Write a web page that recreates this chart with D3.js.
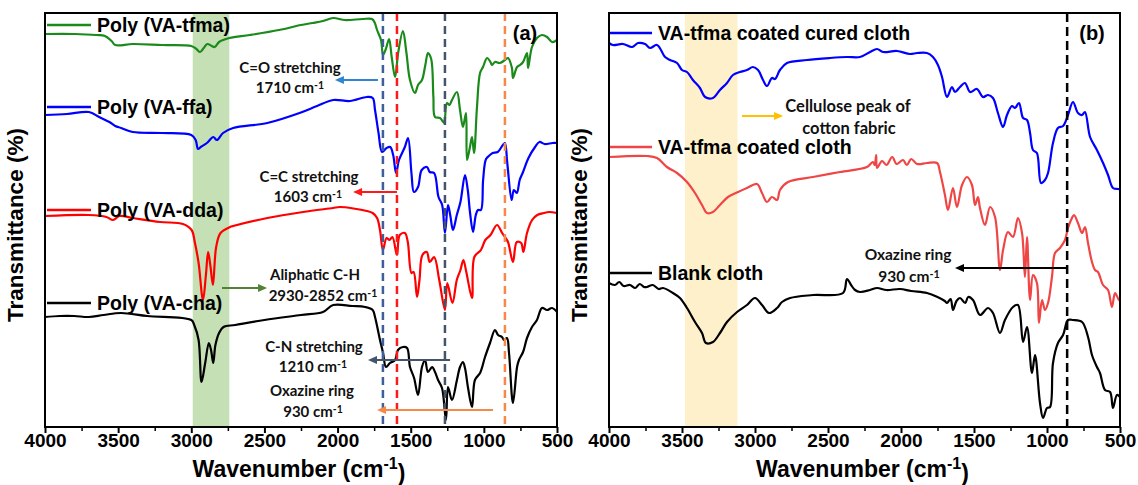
<!DOCTYPE html>
<html><head><meta charset="utf-8">
<script src="https://cdn.jsdelivr.net/npm/d3@7"></script>
<style>body{margin:0;background:#fff}svg{display:block}</style>
</head><body>
<svg id="c" width="1138" height="485"></svg>
<script>
// ---------- DATA (wavenumber cm-1, transmittance a.u.) ----------
const wnTicks = [4000, 3500, 3000, 2500, 2000, 1500, 1000, 500];
const wnMinor = [3750, 3250, 2750, 2250, 1750, 1250, 750];

const polyTfma = [[4000,393],[3800,393],[3650,392],[3590,391],[3545,386],[3520,382],[3400,383],[3200,382],[3000,381],[2965,378],[2940,375],[2915,379],[2890,383],[2860,381],[2840,380],[2810,385],[2740,389],[2600,392],[2400,397],[2250,402],[2170,404],[2100,406],[2030,409],[1950,407],[1830,408],[1765,408],[1745,404],[1730,397],[1703,387],[1689,372],[1670,378],[1648,388],[1630,370],[1607,350],[1585,375],[1553,396],[1530,375],[1505,347],[1471,334],[1450,342],[1423,347],[1400,362],[1382,374],[1360,368],[1345,330],[1334,310],[1300,309],[1270,304],[1266,308],[1252,324],[1235,322],[1218,327],[1184,335],[1163,317],[1143,300],[1122,314],[1115,267],[1095,280],[1081,290],[1067,274],[1047,320],[1026,354],[1006,360],[978,369],[955,365],[944,362],[924,365],[890,364],[856,367],[835,369],[808,359],[801,349],[773,360],[753,362],[732,365],[705,374],[698,359],[671,380],[637,389],[603,392],[568,390],[534,385],[500,387]];

const polyFfa = [[4000,312],[3850,313],[3700,315],[3630,310],[3560,305],[3520,301],[3480,299],[3400,295],[3200,294],[3000,292],[2970,287],[2954,278],[2935,280],[2893,284],[2850,290],[2825,287],[2783,294],[2714,299],[2480,304],[2260,314],[2140,321],[2030,327],[1915,326],[1800,330],[1760,329],[1744,317],[1720,294],[1696,275],[1665,279],[1640,280],[1620,272],[1600,254],[1580,267],[1540,280],[1518,289],[1495,254],[1478,235],[1450,240],[1425,257],[1389,260],[1370,255],[1340,254],[1310,230],[1285,222],[1266,194],[1245,222],[1230,212],[1211,197],[1185,212],[1160,225],[1129,252],[1110,237],[1095,215],[1074,195],[1055,212],[1040,217],[1020,217],[1005,247],[985,268],[958,272],[940,274],[905,275],[870,282],[856,284],[840,264],[810,227],[795,237],[775,234],[755,247],[735,254],[695,269],[650,280],[620,285],[585,283],[530,284],[500,284]];

const polyDda = [[4000,211],[3700,212],[3580,210],[3535,207],[3490,211],[3400,209],[3214,205],[3057,203],[2998,197],[2975,184],[2950,164],[2920,127],[2900,152],[2885,175],[2870,162],[2852,142],[2830,180],[2800,194],[2735,200],[2714,201],[2480,209],[2236,215],[2031,219],[1985,220],[1800,216],[1760,214],[1730,209],[1710,197],[1690,177],[1665,189],[1645,187],[1625,190],[1594,172],[1575,192],[1540,194],[1520,185],[1495,154],[1480,155],[1457,130],[1440,147],[1420,172],[1390,175],[1370,165],[1340,170],[1305,147],[1266,117],[1250,144],[1215,124],[1185,147],[1160,157],[1140,167],[1120,155],[1081,129],[1065,170],[1020,177],[990,187],[955,192],[910,202],[875,194],[856,190],[835,185],[801,165],[775,185],[745,184],[730,175],[705,194],[670,207],[635,212],[590,214],[555,215],[500,214]];

const polyCha = [[4000,110],[3900,111],[3800,111],[3700,110],[3600,112],[3480,114],[3300,111],[3000,107],[2980,102],[2950,87],[2930,45],[2905,64],[2880,84],[2865,77],[2850,64],[2835,82],[2810,94],[2780,100],[2700,102],[2500,107],[2250,112],[2100,115],[2030,122],[1900,121],[1812,120],[1760,117],[1744,110],[1710,87],[1689,74],[1669,60],[1642,64],[1607,67],[1587,77],[1553,80],[1525,79],[1505,60],[1477,49],[1450,32],[1423,60],[1402,67],[1382,55],[1354,60],[1334,55],[1313,47],[1286,39],[1259,7],[1245,40],[1218,27],[1184,47],[1163,60],[1143,65],[1129,59],[1108,39],[1081,20],[1061,47],[1026,54],[992,70],[958,84],[924,97],[903,92],[876,90],[862,87],[842,89],[828,74],[801,24],[773,60],[760,67],[732,75],[705,89],[671,100],[637,107],[603,119],[568,117],[534,119],[500,115]];

const curedCloth = [[4000,384],[3973,382],[3904,383],[3842,380],[3801,384],[3753,383],[3719,379],[3671,382],[3616,370],[3582,367],[3534,364],[3500,357],[3466,355],[3425,347],[3377,339],[3342,330],[3288,329],[3240,337],[3192,344],[3151,352],[3103,355],[3055,357],[3014,360],[2979,357],[2945,347],[2918,341],[2884,349],[2863,348],[2829,357],[2781,364],[2644,367],[2486,369],[2370,370],[2281,370],[2212,375],[2164,378],[2123,375],[2027,376],[1938,373],[1890,374],[1822,374],[1781,370],[1747,362],[1719,350],[1685,330],[1651,340],[1630,335],[1596,340],[1562,344],[1527,335],[1480,338],[1438,330],[1404,332],[1370,329],[1336,314],[1301,300],[1274,312],[1240,321],[1219,319],[1192,324],[1164,309],[1137,307],[1116,294],[1096,277],[1069,274],[1041,244],[1014,247],[993,254],[959,284],[925,299],[890,301],[856,312],[822,325],[788,314],[760,312],[740,315],[705,290],[658,277],[616,264],[582,252],[548,239],[514,238],[500,238]];

const coatedCloth = [[4000,270],[3740,271],[3671,269],[3603,260],[3534,254],[3466,245],[3411,234],[3363,222],[3329,214],[3288,215],[3240,222],[3185,230],[3116,235],[3055,239],[2986,243],[2952,234],[2918,225],[2884,230],[2849,227],[2829,237],[2774,245],[2603,250],[2418,255],[2233,260],[2192,265],[2180,262],[2170,272],[2164,259],[2130,266],[2100,262],[2060,270],[2030,263],[1986,267],[1960,262],[1930,268],[1890,263],[1822,264],[1753,264],[1733,255],[1699,232],[1678,217],[1644,239],[1617,220],[1582,242],[1548,250],[1514,242],[1493,222],[1473,230],[1459,219],[1425,202],[1390,220],[1356,210],[1322,157],[1301,177],[1267,195],[1233,190],[1199,209],[1171,194],[1151,150],[1137,190],[1116,127],[1096,152],[1069,144],[1055,104],[1034,127],[1014,117],[993,124],[966,150],[945,174],[911,179],[877,187],[856,199],[829,209],[815,212],[788,204],[760,194],[740,200],[719,184],[692,165],[671,157],[651,155],[616,142],[582,137],[555,120],[534,134],[507,127],[500,127]];

const blankCloth = [[4000,144],[3960,142],[3930,145],[3900,141],[3856,142],[3820,139],[3790,143],[3760,140],[3740,140],[3700,142],[3660,138],[3630,139],[3562,134],[3514,129],[3466,119],[3411,105],[3363,94],[3336,84],[3288,85],[3240,94],[3192,105],[3123,115],[3055,122],[3000,129],[2952,122],[2904,114],[2849,119],[2815,125],[2760,129],[2603,132],[2397,134],[2370,148],[2342,142],[2315,137],[2281,135],[2212,137],[2164,139],[2100,137],[2007,138],[1930,136],[1822,134],[1750,130],[1700,126],[1685,124],[1660,128],[1644,117],[1620,126],[1596,129],[1560,124],[1540,130],[1507,127],[1459,112],[1404,119],[1370,114],[1322,94],[1288,107],[1233,120],[1199,122],[1164,85],[1137,100],[1103,54],[1082,72],[1048,24],[1027,9],[1000,19],[979,20],[959,64],[925,84],[890,92],[856,107],[822,107],[760,105],[719,90],[692,72],[658,60],[637,54],[603,37],[568,35],[548,19],[521,32],[500,30]];

const bandA = [2990, 2740];          // aliphatic C-H region
const bandB = [3480, 3120];          // cellulose region
const markersA = [1690, 1594, 1266, 856];
const markerB = 862;

// ---------- LAYOUT ----------
const svg = d3.select("#c");
const yTop = 13, yBot = 427;
const y = d3.scaleLinear().domain([0, 414]).range([yBot, yTop]);
const xA = d3.scaleLinear().domain([4000, 500]).range([45, 557]);
const xB = d3.scaleLinear().domain([4000, 500]).range([609, 1120]);

const BOLD = "'Liberation Sans', Arial, sans-serif";
const ANN = "Lato, 'Open Sans', sans-serif";

// bands
svg.append("rect").attr("x", xA(bandA[0])).attr("y", yTop).attr("width", xA(bandA[1]) - xA(bandA[0])).attr("height", yBot - yTop).attr("fill", "#c5e0b4");
svg.append("rect").attr("x", xB(bandB[0])).attr("y", yTop).attr("width", xB(bandB[1]) - xB(bandB[0])).attr("height", yBot - yTop).attr("fill", "#fff0cc");

function drawLine(x, data, color, w) {
  const line = d3.line().x(d => x(d[0])).y(d => y(d[1])).curve(d3.curveCatmullRom.alpha(0.5));
  svg.append("path").datum(data).attr("d", line).attr("fill", "none").attr("stroke", color).attr("stroke-width", w || 2.2).attr("stroke-linejoin", "round");
}
drawLine(xA, polyTfma, "#1a8a1a");
drawLine(xA, polyFfa, "#0000ff");
drawLine(xA, polyDda, "#ff0000");
drawLine(xA, polyCha, "#000000");
drawLine(xB, curedCloth, "#0000ff");
drawLine(xB, coatedCloth, "#f04545");
drawLine(xB, blankCloth, "#000000");

// dashed markers
const markerColors = ["#3f5f9a", "#ff1a1a", "#44546a", "#f4894a"];
markersA.forEach((m, i) => {
  svg.append("line").attr("x1", xA(m)).attr("x2", xA(m)).attr("y1", yTop).attr("y2", yBot)
    .attr("stroke", markerColors[i]).attr("stroke-width", 2.5).attr("stroke-dasharray", "8,5");
});
svg.append("line").attr("x1", xB(markerB)).attr("x2", xB(markerB)).attr("y1", yTop).attr("y2", yBot)
  .attr("stroke", "#000").attr("stroke-width", 2.5).attr("stroke-dasharray", "9,5");

// legends
const legA = [["Poly (VA-tfma)", "#1a8a1a", 25], ["Poly (VA-ffa)", "#0000ff", 107], ["Poly (VA-dda)", "#ff0000", 210], ["Poly (VA-cha)", "#000", 303]];
legA.forEach(l => {
  svg.append("line").attr("x1", 47).attr("x2", 91).attr("y1", l[2]).attr("y2", l[2]).attr("stroke", l[1]).attr("stroke-width", 2.5);
  svg.append("text").attr("x", 97).attr("y", l[2]).attr("dy", "0.35em").attr("font-family", BOLD).attr("font-weight", "bold").attr("font-size", 19.5).text(l[0]);
});
const legB = [["VA-tfma coated cured cloth", "#0000ff", 33], ["VA-tfma coated cloth", "#f04545", 147], ["Blank cloth", "#000", 273]];
legB.forEach(l => {
  svg.append("line").attr("x1", 610).attr("x2", 652).attr("y1", l[2]).attr("y2", l[2]).attr("stroke", l[1]).attr("stroke-width", 2.5);
  svg.append("text").attr("x", 658).attr("y", l[2]).attr("dy", "0.35em").attr("font-family", BOLD).attr("font-weight", "bold").attr("font-size", 19.5).text(l[0]);
});

// annotation helpers
function label(cx, cy, main, sup, fs) {
  fs = fs || 15;
  const t = svg.append("text").attr("x", cx).attr("y", cy).attr("dy", "0.35em").attr("text-anchor", "middle")
    .attr("font-family", ANN).attr("font-weight", "bold").attr("font-size", fs).attr("fill", "#111");
  t.append("tspan").text(main);
  if (sup) t.append("tspan").attr("dy", "-0.45em").attr("font-size", fs * 0.7).text(sup);
}
function arrow(x, w1, w2, tv, color) {
  const xa = x(w1), xb = x(w2), yy = y(tv);
  const dir = xb > xa ? 1 : -1;
  svg.append("line").attr("x1", xa).attr("x2", xb - dir * 7).attr("y1", yy).attr("y2", yy).attr("stroke", color).attr("stroke-width", 2);
  svg.append("path").attr("d", `M${xb},${yy} L${xb - dir * 9},${yy - 4} L${xb - dir * 9},${yy + 4} Z`).attr("fill", color);
}

label(290, 68, "C=O stretching");
label(290, 88, "1710 cm", "-1");
arrow(xA, 1724, 2018, 347, "#2e86d0");
label(309, 177, "C=C stretching");
label(308, 197, "1603 cm", "-1");
arrow(xA, 1594, 1894, 235, "#ff1a1a");
label(315, 275, "Aliphatic C-H");
label(323, 296, "2930-2852 cm", "-1");
arrow(xA, 2790, 2482, 139, "#548235");
label(314, 347, "C-N stretching");
label(313, 367, "1210 cm", "-1");
arrow(xA, 1231, 1792, 67, "#44546a");
label(312, 391, "Oxazine ring");
label(313, 412, "930 cm", "-1");
arrow(xA, 937, 1730, 17, "#f4894a");

label(848, 106, "Cellulose peak of", null, 16.5);
label(849, 128, "cotton fabric", null, 16.5);
arrow(xB, 3089, 2808, 311, "#ffc000");
label(908, 255, "Oxazine ring", null, 15.5);
label(909, 277, "930 cm", "-1", 15.5);
arrow(xB, 863, 1630, 159, "#000");

// panel labels
svg.append("text").attr("x", 525).attr("y", 33).attr("dy", "0.35em").attr("text-anchor", "middle").attr("font-family", BOLD).attr("font-weight", "bold").attr("font-size", 20).text("(a)");
svg.append("text").attr("x", 1092).attr("y", 33).attr("dy", "0.35em").attr("text-anchor", "middle").attr("font-family", BOLD).attr("font-weight", "bold").attr("font-size", 20).text("(b)");

// frames and axes
[xA, xB].forEach(x => {
  const r = x.range();
  svg.append("rect").attr("x", r[0]).attr("y", yTop).attr("width", r[1] - r[0]).attr("height", yBot - yTop)
    .attr("fill", "none").attr("stroke", "#000").attr("stroke-width", 2);
  const g = svg.append("g").attr("transform", `translate(0,${yBot})`)
    .call(d3.axisBottom(x).tickValues(wnTicks).tickFormat(d3.format("d")).tickSize(6).tickPadding(1));
  g.select(".domain").remove();
  g.selectAll("line").attr("stroke-width", 2);
  g.selectAll("text").attr("font-family", BOLD).attr("font-weight", "bold").attr("font-size", 19).attr("fill", "#000");
  const gm = svg.append("g").attr("transform", `translate(0,${yBot})`)
    .call(d3.axisBottom(x).tickValues(wnMinor).tickFormat("").tickSize(4));
  gm.select(".domain").remove();
  gm.selectAll("line").attr("stroke-width", 1.5);
  // axis titles
  const cx = (r[0] + r[1]) / 2;
  const t = svg.append("text").attr("x", cx - 2).attr("y", 477).attr("text-anchor", "middle")
    .attr("font-family", BOLD).attr("font-weight", "bold").attr("font-size", 23);
  t.append("tspan").text("Wavenumber (cm");
  t.append("tspan").attr("dy", "-0.5em").attr("font-size", 16).text("-1");
  t.append("tspan").attr("dy", "0.5em").text(")");
  svg.append("text").attr("transform", `translate(${r[0] - 22},${(yTop + yBot) / 2 + 5}) rotate(-90)`)
    .attr("text-anchor", "middle").attr("font-family", BOLD).attr("font-weight", "bold").attr("font-size", 22.5)
    .text("Transmittance (%)");
});
</script>
</body></html>
